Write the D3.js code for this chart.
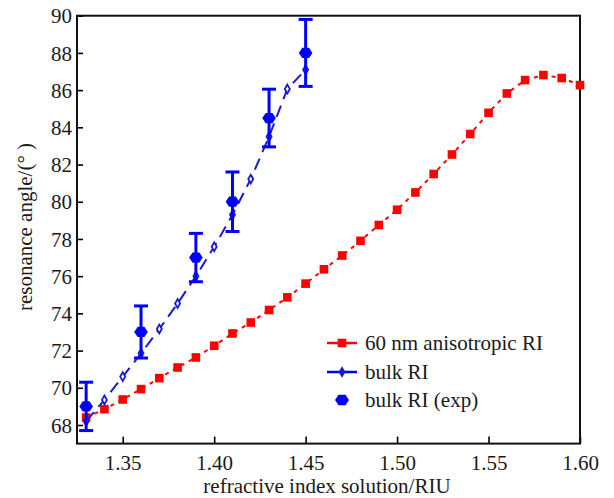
<!DOCTYPE html>
<html>
<head>
<meta charset="utf-8">
<script src="https://cdn.jsdelivr.net/npm/d3@7"></script>
<style>
  html, body { margin: 0; padding: 0; background: #fff; }
  svg { display: block; }
  svg text { font-family: "Liberation Serif", "Times New Roman", serif; }
</style>
</head>
<body>
<svg id="chart" width="614" height="498"></svg>
<script>
// Refractive index of the solution (RIU)
const anisoRI = [1.33, 1.34, 1.35, 1.36, 1.37, 1.38, 1.39, 1.40, 1.41, 1.42, 1.43, 1.44, 1.45, 1.46,
                 1.47, 1.48, 1.49, 1.50, 1.51, 1.52, 1.53, 1.54, 1.55, 1.56, 1.57, 1.58, 1.59, 1.60];
// Resonance angle (deg) for the 60 nm anisotropic layer
const anisoAngle = [68.4, 68.85, 69.37, 69.93, 70.52, 71.09, 71.63, 72.26, 72.92, 73.51, 74.18, 74.86, 75.6, 76.37,
                    77.11, 77.9, 78.75, 79.57, 80.5, 81.49, 82.54, 83.64, 84.78, 85.82, 86.54, 86.81, 86.65, 86.27];

// Bulk RI simulation
const bulkRI = [1.33, 1.34, 1.35, 1.36, 1.37, 1.38, 1.39, 1.40, 1.41, 1.42, 1.43, 1.44, 1.45];
const bulkAngle = [68.2, 69.35, 70.6, 71.85, 73.16, 74.53, 76.0, 77.58, 79.3, 81.22, 83.5, 86.06, 87.1];

// Bulk RI experiment, with error bars
const expRI = [1.33, 1.36, 1.39, 1.41, 1.43, 1.45];
const expAngle = [69.0, 73.0, 77.0, 80.0, 84.5, 88.0];
const expErr = [1.3, 1.4, 1.3, 1.6, 1.55, 1.8];

// Axis ticks and labels
const xTicks = [1.35, 1.40, 1.45, 1.50, 1.55, 1.60];
const yTicks = [68, 70, 72, 74, 76, 78, 80, 82, 84, 86, 88, 90];
const xTitle = "refractive index solution/RIU";
const yTitle = "resonance angle/(° )";
const legendLabels = ["60 nm anisotropic RI", "bulk RI", "bulk RI (exp)"];

const RED = "#ff0000";
const BLUE = "#0000ff";
const NAVY = "#1a1ad0";
const FONT = "'Liberation Serif', 'Times New Roman', serif";
const FS = "21px";

const svg = d3.select("#chart");
const plot = { left: 77, right: 580, top: 15.7, bottom: 443.6 };

const x = d3.scaleLinear().domain([1.325, 1.60]).range([plot.left, plot.right]);
const y = d3.scaleLinear().domain([67, 90]).range([plot.bottom, plot.top]);

// Axes with inward ticks
const xAxis = svg.append("g")
  .attr("transform", `translate(0,${plot.bottom})`)
  .call(d3.axisBottom(x).tickValues(xTicks).tickFormat(d3.format(".2f")).tickSizeInner(-7).tickSizeOuter(0).tickPadding(11));
const yAxis = svg.append("g")
  .attr("transform", `translate(${plot.left},0)`)
  .call(d3.axisLeft(y).tickValues(yTicks).tickFormat(d3.format("d")).tickSizeInner(-6).tickSizeOuter(0).tickPadding(5));

[xAxis, yAxis].forEach(g => {
  g.attr("font-family", FONT).attr("font-size", FS);
  g.select(".domain").remove();
  g.selectAll(".tick line").attr("stroke", "#000").attr("stroke-width", 1.6);
  g.selectAll(".tick text").attr("fill", "#1a1a1a");
});
yAxis.selectAll(".tick text").attr("dy", "0.34em");

// Frame
svg.append("rect")
  .attr("x", plot.left).attr("y", plot.top)
  .attr("width", plot.right - plot.left).attr("height", plot.bottom - plot.top)
  .attr("fill", "none").attr("stroke", "#111").attr("stroke-width", 2);

// Axis titles
svg.append("text")
  .attr("x", 327).attr("y", 493)
  .attr("text-anchor", "middle").attr("fill", "#1a1a1a")
  .attr("font-family", FONT).attr("font-size", FS).text(xTitle);
svg.append("text")
  .attr("transform", `translate(32,227) rotate(-90)`)
  .attr("text-anchor", "middle").attr("fill", "#1a1a1a")
  .attr("font-family", FONT).attr("font-size", FS).text(yTitle);

// Hexagon marker path
function hexPath(r) {
  const pts = d3.range(6).map(i => {
    const a = Math.PI / 3 * i;
    return [r * Math.cos(a), r * 0.87 * Math.sin(a)];
  });
  return "M" + pts.map(p => p.join(",")).join("L") + "Z";
}
const diamond = d3.symbol().type(d3.symbolDiamond).size(22)();

const line = d3.line().x(d => x(d[0])).y(d => y(d[1]));

// 60 nm anisotropic RI: dotted red line with square markers
const anisoData = anisoRI.map((r, i) => [r, anisoAngle[i]]);
svg.append("path").datum(anisoData)
  .attr("d", line).attr("fill", "none")
  .attr("stroke", RED).attr("stroke-width", 2).attr("stroke-dasharray", "4,5");
svg.append("g").selectAll("rect").data(anisoData).join("rect")
  .attr("x", d => x(d[0]) - 4.3).attr("y", d => y(d[1]) - 4.3)
  .attr("width", 8.6).attr("height", 8.6).attr("fill", RED);

// Bulk RI: dashed blue line with small hollow diamonds
const bulkData = bulkRI.map((r, i) => [r, bulkAngle[i]]);
svg.append("path").datum(bulkData)
  .attr("d", line).attr("fill", "none")
  .attr("stroke", NAVY).attr("stroke-width", 2).attr("stroke-dasharray", "12,7");
svg.append("g").selectAll("path").data(bulkData).join("path")
  .attr("d", diamond)
  .attr("transform", d => `translate(${x(d[0])},${y(d[1])})`)
  .attr("fill", "#fff").attr("stroke", NAVY).attr("stroke-width", 1.8);

// Experimental points with error bars
const expData = expRI.map((r, i) => ({ r, a: expAngle[i], e: expErr[i] }));
const eb = svg.append("g").attr("stroke", BLUE).attr("stroke-width", 3);
eb.selectAll("line.v").data(expData).join("line").attr("class", "v")
  .attr("x1", d => x(d.r)).attr("x2", d => x(d.r))
  .attr("y1", d => y(d.a + d.e)).attr("y2", d => y(d.a - d.e));
eb.selectAll("line.t").data(expData).join("line").attr("class", "t")
  .attr("x1", d => x(d.r) - 7).attr("x2", d => x(d.r) + 7)
  .attr("y1", d => y(d.a + d.e)).attr("y2", d => y(d.a + d.e));
eb.selectAll("line.b").data(expData).join("line").attr("class", "b")
  .attr("x1", d => x(d.r) - 7).attr("x2", d => x(d.r) + 7)
  .attr("y1", d => y(d.a - d.e)).attr("y2", d => y(d.a - d.e));
svg.append("g").selectAll("path").data(expData).join("path")
  .attr("d", hexPath(6.8))
  .attr("transform", d => `translate(${x(d.r)},${y(d.a)})`)
  .attr("fill", BLUE);

// Legend
const legend = svg.append("g");
const rows = [343, 372, 400];
const lx0 = 327, lx1 = 357, lxm = 342, tx = 365;
legend.append("line").attr("x1", lx0).attr("x2", lx1).attr("y1", rows[0]).attr("y2", rows[0])
  .attr("stroke", RED).attr("stroke-width", 2.5);
legend.append("rect").attr("x", lxm - 4.3).attr("y", rows[0] - 4.3).attr("width", 8.6).attr("height", 8.6).attr("fill", RED);
legend.append("line").attr("x1", lx0).attr("x2", lx1).attr("y1", rows[1]).attr("y2", rows[1])
  .attr("stroke", BLUE).attr("stroke-width", 2.5);
legend.append("path").attr("d", diamond).attr("transform", `translate(${lxm},${rows[1]})`).attr("fill", NAVY).attr("stroke", NAVY).attr("stroke-width", 1.5);
legend.append("path").attr("d", hexPath(7)).attr("transform", `translate(${lxm},${rows[2]})`).attr("fill", BLUE);
legend.selectAll("text").data(legendLabels).join("text")
  .attr("x", tx).attr("y", (d, i) => rows[i] + 7)
  .attr("fill", "#1a1a1a").attr("font-family", FONT).attr("font-size", FS).text(d => d);
</script>
</body>
</html>
